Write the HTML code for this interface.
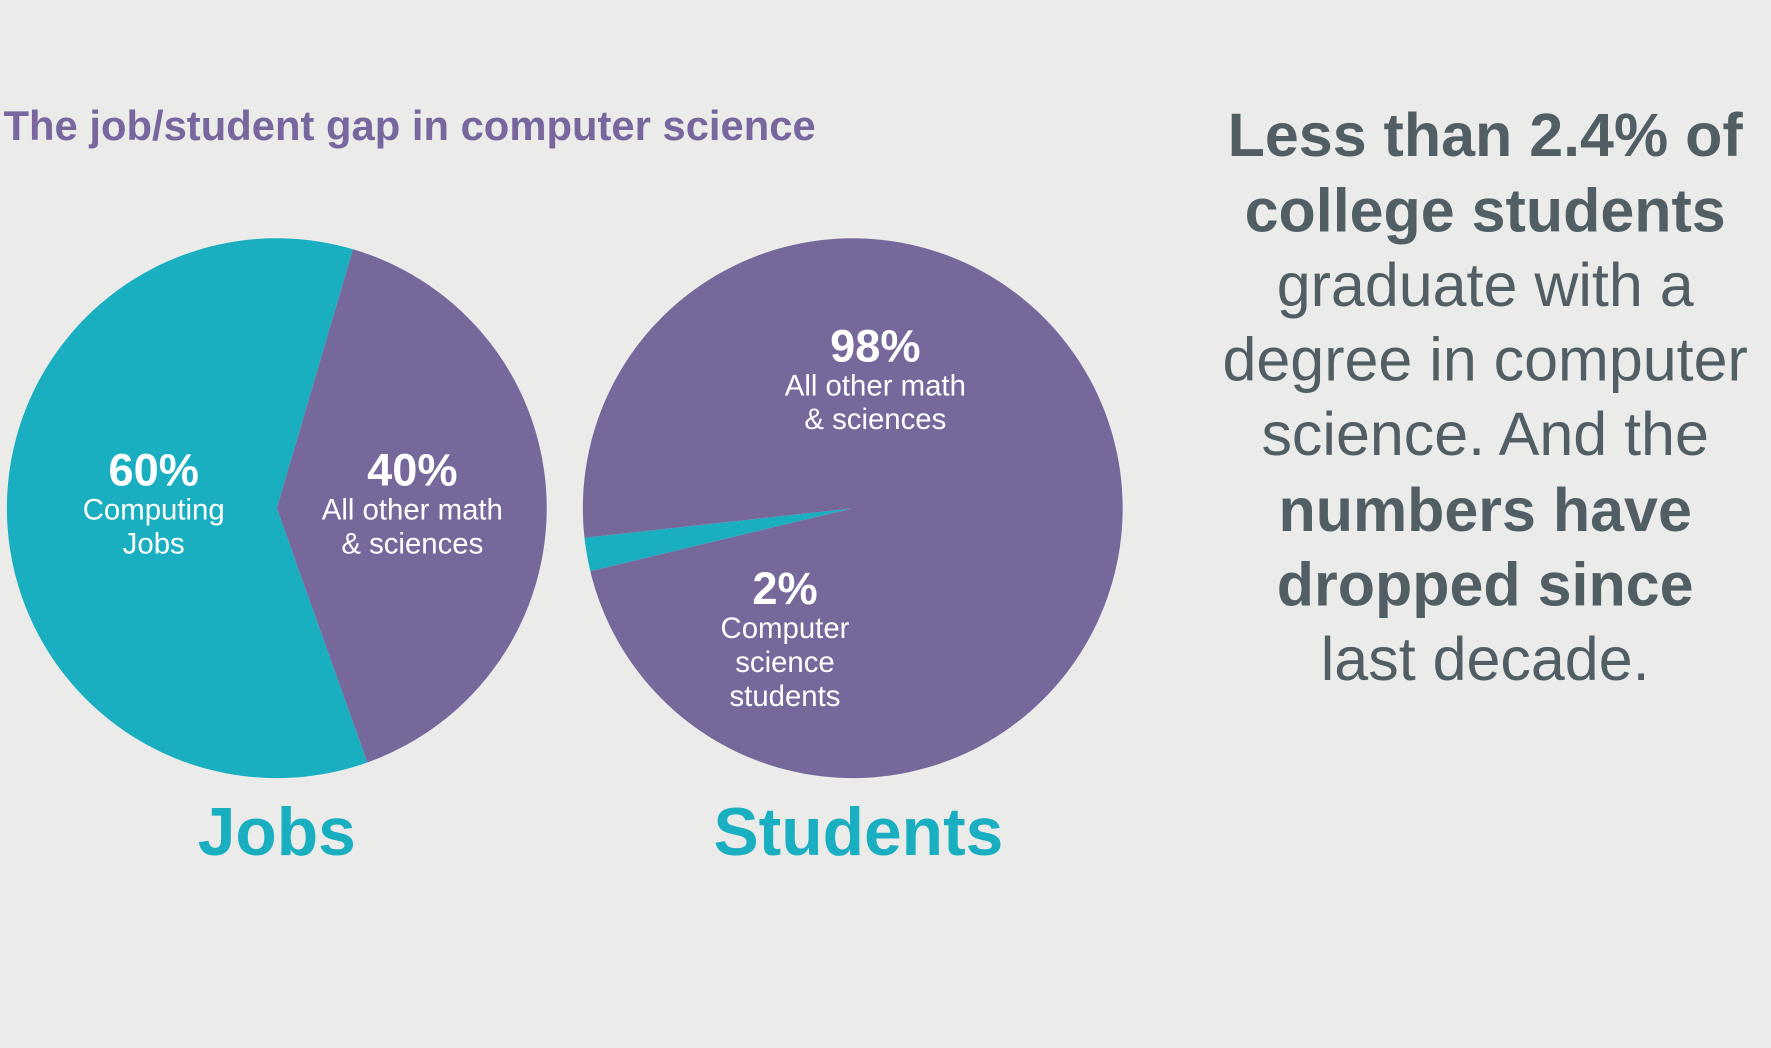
<!DOCTYPE html>
<html><head><meta charset="utf-8"><style>
html,body{margin:0;padding:0;background:#ebecea;}
svg{display:block;font-family:"Liberation Sans",sans-serif;}
</style></head><body>
<svg id="chart" width="1771" height="1048" viewBox="0 0 1568 928" xmlns="http://www.w3.org/2000/svg">
<rect width="1568" height="928" fill="#ebecea"/>
<text x="3" y="124" font-size="37" font-weight="bold" fill="#77679e">The job/student gap in computer science</text>
<g id="pies"></g>
<text x="245" y="757" text-anchor="middle" font-size="60" font-weight="bold" fill="#1aaec1">Jobs</text>
<text x="760" y="757" text-anchor="middle" font-size="60" font-weight="bold" fill="#1aaec1">Students</text>
<g text-anchor="middle" fill="#515f65" font-size="54">
<text x="1315" y="138" font-weight="bold">Less than 2.4% of</text>
<text x="1315" y="205" font-weight="bold">college students</text>
<text x="1315" y="271">graduate with a</text>
<text x="1315" y="337">degree in computer</text>
<text x="1315" y="403">science. And the</text>
<text x="1315" y="470" font-weight="bold">numbers have</text>
<text x="1315" y="536" font-weight="bold">dropped since</text>
<text x="1315" y="602">last decade.</text>
</g>
</svg>
<script>
const jobsCategories = ["Computing Jobs", "All other math & sciences"];
const jobsValues = [60, 40];
const studentCategories = ["Computer science students", "All other math & sciences"];
const studentValues = [2, 98];
const jobsLabels = [["Computing","Jobs"],["All other math","& sciences"]];
const studentLabels = [["Computer","science","students"],["All other math","& sciences"]];

const NS = "http://www.w3.org/2000/svg";
const colors = ["#1aaec1", "#77689b"];
const g = document.getElementById("pies");

function pt(cx, cy, r, deg){const a = deg*Math.PI/180;return [cx + r*Math.sin(a), cy - r*Math.cos(a)];}

function drawPie(name, cats, vals, labels, cx, cy, r, startSecond, labelPos){
  const total = vals.reduce((a,b)=>a+b,0);
  // second slice starts at startSecond, first slice follows it
  const spans = vals.map(v=>v/total*360);
  const starts = [startSecond + spans[1], startSecond];
  vals.forEach((v,i)=>{
    const s = starts[i], e = s + spans[i];
    const p1 = pt(cx,cy,r,s), p2 = pt(cx,cy,r,e);
    const large = spans[i] > 180 ? 1 : 0;
    const path = document.createElementNS(NS,"path");
    path.setAttribute("d", `M${cx},${cy} L${p1[0]},${p1[1]} A${r},${r} 0 ${large} 1 ${p2[0]},${p2[1]} Z`);
    path.setAttribute("fill", colors[i]);
    
    
    g.appendChild(path);
  });
  vals.forEach((v,i)=>{
    const [lx, ly] = labelPos[i];
    const t = document.createElementNS(NS,"text");
    t.setAttribute("x", lx); t.setAttribute("y", ly);
    t.setAttribute("text-anchor","middle"); t.setAttribute("fill","#fff");
    t.setAttribute("font-size","40"); t.setAttribute("font-weight","bold");
    t.textContent = v + "%";
    
    
    g.appendChild(t);
    labels[i].forEach((ln,j)=>{
      const s = document.createElementNS(NS,"text");
      s.setAttribute("x", lx); s.setAttribute("y", ly + 30*(j+1));
      s.setAttribute("text-anchor","middle"); s.setAttribute("fill","#fff");
      s.setAttribute("font-size","26");
      s.textContent = ln;
      
      
      g.appendChild(s);
    });
  });
}
drawPie("jobs-pie", jobsCategories, jobsValues, jobsLabels, 245, 450, 239, 16.4, [[136,430],[365,430]]);
drawPie("students-pie", studentCategories, studentValues, studentLabels, 755, 450, 239, -96.3, [[695,535],[775,320]]);
</script>
</body></html>
